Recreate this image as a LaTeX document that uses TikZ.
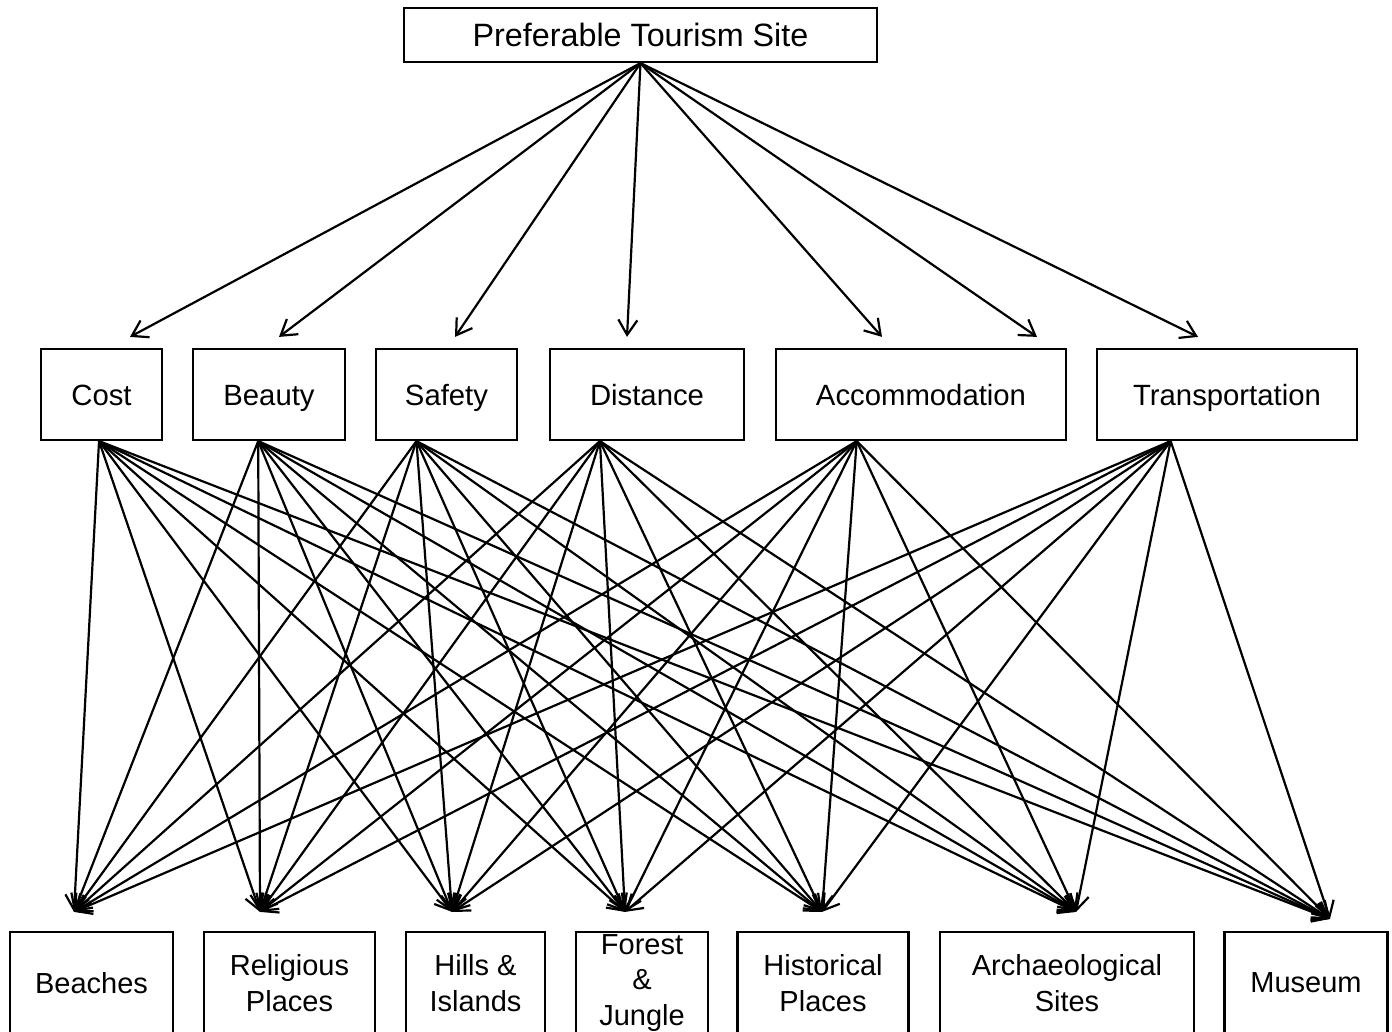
\documentclass[tikz,border=0pt]{standalone}
\usepackage{fontspec}
\setmainfont{Liberation Sans}
\usetikzlibrary{arrows.meta,calc}
\begin{document}
\begin{tikzpicture}[x=1pt,y=-1pt,
  box/.style={draw,line width=2.2pt,inner sep=0pt,align=center},
  topfont/.style={font=\fontsize{32.3}{37}\selectfont,text height=23.1pt,text depth=0pt},
  midfont/.style={font=\fontsize{29.3}{34}\selectfont,text height=21pt,text depth=0pt},
  botfont/.style={font=\fontsize{29}{35.5}\selectfont},
  arr/.style={line width=2.2pt,-{Straight Barb[length=15pt,width=19pt,line width=2.2pt]}},
]
\useasboundingbox (0,0) rectangle (1392,1031);
% top
\node[box,topfont,minimum width=473,minimum height=54] (top) at (640.5,35) {Preferable Tourism Site};
% middle row
\node[box,midfont,minimum width=121,minimum height=91] (cost) at (101.5,394.5) {Cost};
\node[box,midfont,minimum width=152,minimum height=91] (beauty) at (269,394.5) {Beauty};
\node[box,midfont,minimum width=141,minimum height=91] (safety) at (446.5,394.5) {Safety};
\node[box,midfont,minimum width=194,minimum height=91] (distance) at (647,394.5) {Distance};
\node[box,midfont,minimum width=290,minimum height=91] (accom) at (921,394.5) {Accommodation};
\node[box,midfont,minimum width=260,minimum height=91] (transp) at (1227,394.5) {Transportation};
% bottom row
\node[box,botfont,minimum width=163,minimum height=102] (beaches) at (91.5,983) {Beaches};
\node[box,botfont,minimum width=171,minimum height=102] (relig) at (289.5,983) {Religious\\Places};
\node[box,botfont,minimum width=139,minimum height=102] (hills) at (475.5,983) {Hills \&\\Islands};
\node[box,botfont,minimum width=132,minimum height=102] (forest) at (642,983) {Forest\\\&\\Jungle};
\node[box,botfont,minimum width=171,minimum height=102] (hist) at (823,983) {Historical\\Places};
\node[box,botfont,minimum width=254,minimum height=102] (arch) at (1067,983) {Archaeological\\Sites};
\node[box,botfont,minimum width=163,minimum height=102] (museum) at (1306,983) {Museum};
% top arrow tips
\coordinate (t1) at ($(cost.north)+(28.5,-11)$);
\coordinate (t2) at ($(beauty.north)+(10,-11)$);
\coordinate (t3) at ($(safety.north)+(8.5,-11)$);
\coordinate (t4) at ($(distance.north)+(-20,-11)$);
\coordinate (t5) at ($(accom.north)+(-39,-11)$);
\coordinate (t6) at ($(accom.north)+(116,-11)$);
\coordinate (t7) at ($(transp.north)+(-29,-11)$);
\foreach \t in {t1,t2,t3,t4,t5,t6,t7}
  \draw[arr] (top.south) -- (\t);
% middle origins
\coordinate (o1) at ($(cost.south west)!0.48!(cost.south east)$);
\coordinate (o2) at ($(beauty.south west)!0.43!(beauty.south east)$);
\coordinate (o3) at ($(safety.south west)!0.29!(safety.south east)$);
\coordinate (o4) at ($(distance.south west)!0.26!(distance.south east)$);
\coordinate (o5) at ($(accom.south west)!0.28!(accom.south east)$);
\coordinate (o6) at ($(transp.south west)!0.285!(transp.south east)$);
% bottom arrow tips
\coordinate (b1) at ($(beaches.north)+(-17.5,-19)$);
\coordinate (b2) at ($(relig.north)+(-29.5,-19)$);
\coordinate (b3) at ($(hills.north)+(-23.5,-19)$);
\coordinate (b4) at ($(forest.north)+(-17,-19)$);
\coordinate (b5) at ($(hist.north)+(-1,-19)$);
\coordinate (b6) at ($(arch.north)+(9,-19)$);
\coordinate (b7) at ($(museum.north)+(24,-12)$);
\foreach \s in {o1,o2,o3,o4,o5,o6}
  \foreach \t in {b1,b2,b3,b4,b5,b6,b7}
    \draw[arr] (\s) -- (\t);
\end{tikzpicture}
\end{document}
